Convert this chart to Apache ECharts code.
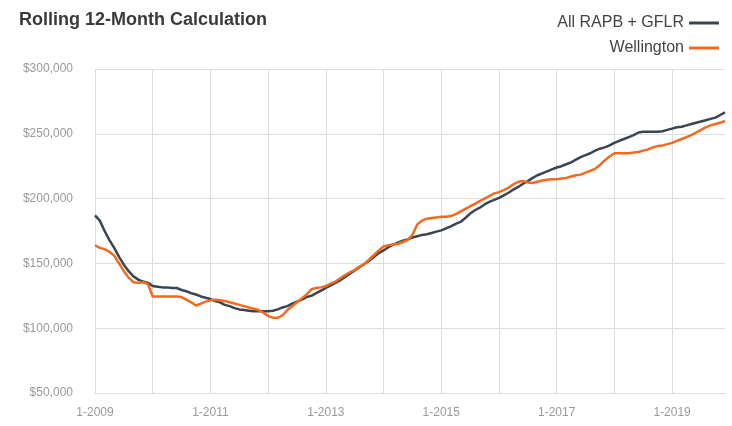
<!DOCTYPE html>
<html>
<head>
<meta charset="utf-8">
<script src="https://cdn.jsdelivr.net/npm/echarts@6/dist/echarts.min.js"></script>
<style>html,body{margin:0;padding:0;background:#fff}#c{width:732px;height:426px}</style>
</head>
<body>
<div id="c"></div>
<script>
// Monthly rolling 12-month values, Jan 2009 .. Dec 2019 (thousands of $)
const startYear = 2009;
const monthCount = 132;
const categories = [];
for (let i = 0; i < monthCount; i++) {
  categories.push(((i % 12) + 1) + '-' + (startYear + Math.floor(i / 12)));
}
const allRapbGflr = [
  187,183,175,168,162,155,149,144,140,137.5,136,135,
  132.5,132,131.5,131.5,131,131,129.5,128.5,127,126,124.5,123.5,
  122.5,121,120,118,117,115.5,114.5,114,113.5,113,113,113,
  113,113.5,114.5,116,117,119,120.5,122,124,125,127,129,
  131,133,135,137,139.5,142,144.5,147,149.5,152,155,158,
  160,162.5,164.5,166,167.5,168.5,170,171,172,172.5,173.5,174.5,
  175.5,177,178.5,180.5,182,185,188.5,191,193,195.5,197.5,199,
  200.5,202.5,204.5,207,209,211.5,213.5,216,218,219.5,221,222.5,
  224,225,226.5,228,230,232,233.5,235,237,238.5,239.5,241,
  243,244.5,246,247.5,249,251,251.5,251.5,251.5,251.5,252,253,
  254,255,255.5,256.5,257.5,258.5,259.5,260.5,261.5,262.5,264.5,266.5
];
const wellington = [
  164,162,161,159,156,150,144,139,135.5,135,135.5,134,
  124.5,124.5,124.5,124.5,124.5,124.5,124,122,120,117.5,119,120.5,
  121.5,122,121.5,121,120,119,118,117,116,115,114,112,
  109.5,108,108,110,114,117,120,123,126,130,131,131.5,
  132.5,134.5,136,138.5,141,143,145,147.5,149.5,153,156.5,160,
  163,164,164.5,165,166.5,168,172,180,183,184.5,185,185.5,
  186,186,186.5,188,190,192,194,196,198,200,202,204,
  205,206.5,208.5,211,213,213.5,212.5,212,213,214,214.5,215,
  215,215.5,216,217,218,218.5,220,221.5,223,226,229.5,232.5,
  235,235,235,235,235.5,236,237,238,239.5,240.5,241,242,
  243,244.5,246,247.5,249,251,253,255,256.5,257.5,258.5,260
];
const yTicks = [50000,100000,150000,200000,250000,300000];

const chart = echarts.init(document.getElementById('c'), null, {renderer:'canvas'});
const FONT = '"Liberation Sans Narrow", "Liberation Sans", sans-serif';
chart.setOption({
  animation: false,
  backgroundColor: '#fff',
  title: {
    text: 'Rolling 12-Month Calculation',
    left: 14, top: 6,
    textStyle: {fontFamily: FONT, fontSize: 18, fontWeight: 'bold', color: '#3a3a3a'}
  },
  legend: {
    orient: 'vertical', right: 8, top: 10, align: 'right',
    itemWidth: 30, itemHeight: 3, itemGap: 9,
    icon: 'rect',
    textStyle: {fontFamily: FONT, fontSize: 16, color: '#444'},
    data: ['All RAPB + GFLR', 'Wellington']
  },
  grid: {left: 95, right: 7, top: 69, bottom: 33},
  xAxis: {
    type: 'category', data: categories, boundaryGap: false,
    axisLine: {show: true, lineStyle: {color: '#ddd'}},
    axisTick: {show: false},
    axisLabel: {interval: 23, color: '#999', fontFamily: FONT, fontSize: 12, margin: 14},
    splitLine: {show: true, interval: 11, lineStyle: {color: '#ddd', width: 1}}
  },
  yAxis: {
    type: 'value', min: yTicks[0], max: yTicks[yTicks.length - 1], interval: 50000,
    axisLine: {show: false}, axisTick: {show: false},
    axisLabel: {
      color: '#999', fontFamily: FONT, fontSize: 12, margin: 22,
      formatter: v => '$' + v.toLocaleString('en-US')
    },
    splitLine: {lineStyle: {color: '#ddd', width: 1}}
  },
  series: [
    {
      name: 'All RAPB + GFLR', type: 'line', showSymbol: false,
      data: allRapbGflr.map(v => v * 1000),
      lineStyle: {color: '#3b4552', width: 2.5}, itemStyle: {color: '#3b4552'}, z: 2
    },
    {
      name: 'Wellington', type: 'line', showSymbol: false,
      data: wellington.map(v => v * 1000),
      lineStyle: {color: '#f26a21', width: 2.5}, itemStyle: {color: '#f26a21'}, z: 3
    }
  ]
});
</script>
</body>
</html>
